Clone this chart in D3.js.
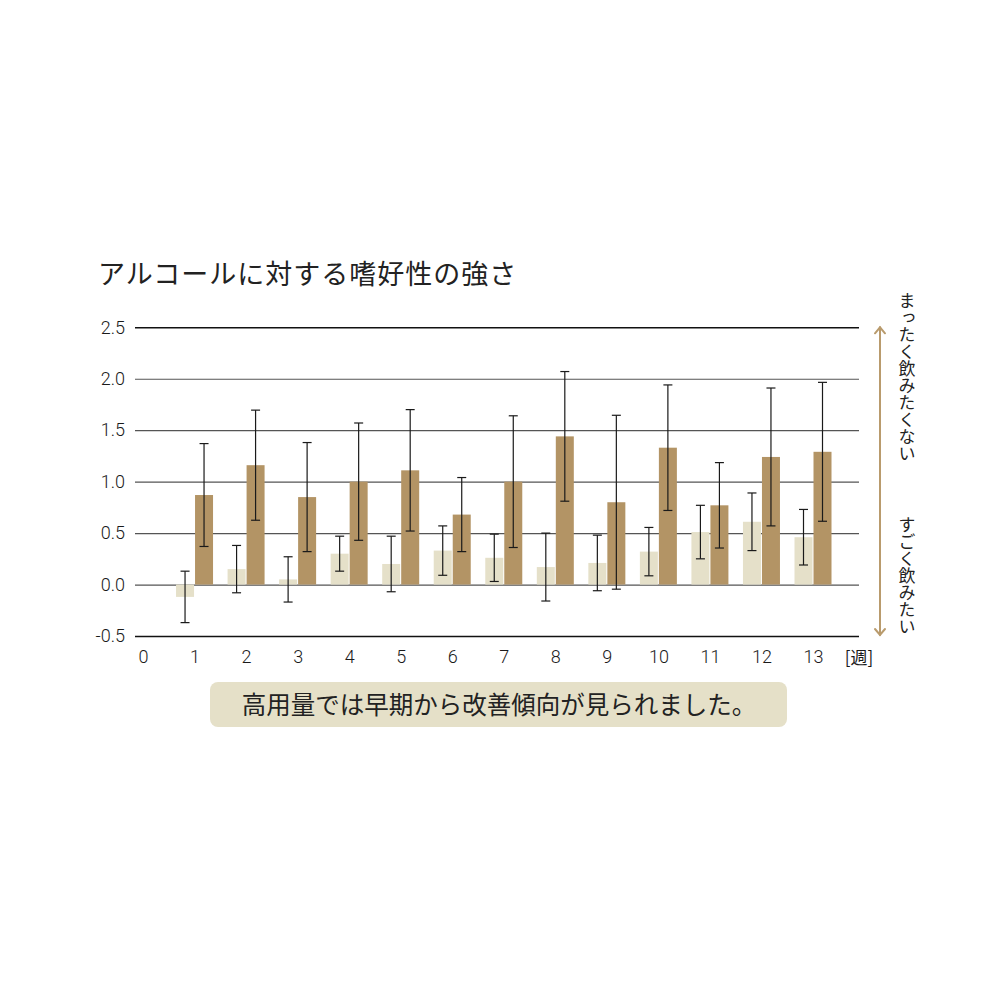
<!DOCTYPE html>
<html>
<head>
<meta charset="utf-8">
<script src="https://cdn.jsdelivr.net/npm/d3@7"></script>
<style>
  body { margin: 0; background: #fff; }
  svg { display: block; font-family: "Noto Sans CJK JP", "Noto Sans", sans-serif; }
</style>
</head>
<body>
<svg id="chart"></svg>
<script>
// data
const weeks = [1, 2, 3, 4, 5, 6, 7, 8, 9, 10, 11, 12, 13];
const lowMean  = [-0.12, 0.15, 0.05, 0.30, 0.20, 0.33, 0.26, 0.17, 0.21, 0.32, 0.51, 0.61, 0.46];
const lowSd    = [0.25, 0.23, 0.22, 0.17, 0.27, 0.24, 0.23, 0.33, 0.27, 0.235, 0.26, 0.28, 0.27];
const highMean = [0.87, 1.16, 0.85, 1.00, 1.11, 0.68, 1.00, 1.44, 0.80, 1.33, 0.77, 1.24, 1.29];
const highSd   = [0.50, 0.535, 0.53, 0.57, 0.59, 0.36, 0.64, 0.63, 0.845, 0.61, 0.415, 0.67, 0.675];
const yTicks = [-0.5, 0, 0.5, 1, 1.5, 2, 2.5];
const xTicks = d3.range(0, 14);

const title = "アルコールに対する嗜好性の強さ";
const note = "高用量では早期から改善傾向が見られました。";
const topLabel = "まったく飲みたくない";
const bottomLabel = "すごく飲みたい";
const unitLabel = "[週]";

const width = 1000, height = 1000;
const left = 135, right = 859;

const lightColor = "#e5e0c9";
const darkColor = "#b39465";
const arrowColor = "#b99b6d";
const numFont = "Roboto, 'Noto Sans', sans-serif";

const svg = d3.select("#chart").attr("width", width).attr("height", height);

const x = d3.scaleLinear().domain([0, 13]).range([143, 813]);
const y = d3.scaleLinear().domain([-0.5, 2.5]).range([636, 327.3]);

// title
svg.append("text")
  .attr("x", 98).attr("y", 284)
  .attr("font-size", 27)
  .attr("letter-spacing", 1)
  .attr("fill", "#222")
  .text(title);

// y axis + gridlines
const fmt = d3.format(".1f");
const yAxis = svg.append("g")
  .attr("transform", `translate(${left},0)`)
  .call(d3.axisLeft(y).tickValues(yTicks).tickFormat(d => fmt(d).replace("−", "-"))
    .tickSizeInner(-(right - left)).tickSizeOuter(0).tickPadding(10));
yAxis.select(".domain").remove();
yAxis.selectAll(".tick line")
  .attr("stroke", d => (d === 2.5 || d === -0.5) ? "#111" : "#555")
  .attr("stroke-width", d => (d === 2.5 || d === -0.5) ? 1.5 : 1.2);
yAxis.selectAll(".tick text")
  .attr("font-size", 18).attr("fill", "#1a1a1a")
  .attr("font-family", numFont).attr("font-weight", 300);

// bars
const rows = weeks.map((w, i) => ({w, lm: lowMean[i], ls: lowSd[i], hm: highMean[i], hs: highSd[i]}));
const barW = 18;

const g = svg.append("g");
g.selectAll("rect.low").data(rows).join("rect")
  .attr("class", "low")
  .attr("x", d => x(d.w) - 0.5 - barW)
  .attr("width", barW)
  .attr("y", d => Math.min(y(d.lm), y(0)))
  .attr("height", d => Math.abs(y(d.lm) - y(0)))
  .attr("fill", lightColor);

g.selectAll("rect.high").data(rows).join("rect")
  .attr("class", "high")
  .attr("x", d => x(d.w) + 0.5)
  .attr("width", barW)
  .attr("y", d => y(d.hm))
  .attr("height", d => y(0) - y(d.hm))
  .attr("fill", darkColor);

// error bars
function errBars(cls, cx, mean, sd) {
  const eb = g.selectAll("g." + cls).data(rows).join("g").attr("class", cls)
    .attr("stroke", "#1a1a1a").attr("stroke-width", 1.2);
  eb.append("line")
    .attr("x1", cx).attr("x2", cx)
    .attr("y1", d => y(mean(d) + sd(d))).attr("y2", d => y(mean(d) - sd(d)));
  [1, -1].forEach(s => {
    eb.append("line")
      .attr("x1", d => cx(d) - 4.5).attr("x2", d => cx(d) + 4.5)
      .attr("y1", d => y(mean(d) + s * sd(d))).attr("y2", d => y(mean(d) + s * sd(d)));
  });
}
errBars("elow", d => x(d.w) - 0.5 - barW / 2, d => d.lm, d => d.ls);
errBars("ehigh", d => x(d.w) + 0.5 + barW / 2, d => d.hm, d => d.hs);

// x axis labels
const xAxis = svg.append("g")
  .attr("transform", `translate(0,${y(-0.5)})`)
  .call(d3.axisBottom(x).tickValues(xTicks).tickSize(0).tickPadding(14));
xAxis.select(".domain").remove();
xAxis.selectAll(".tick text")
  .attr("font-size", 18).attr("fill", "#1a1a1a")
  .attr("font-family", numFont).attr("font-weight", 300);

svg.append("text")
  .attr("x", 859).attr("y", 664)
  .attr("text-anchor", "middle")
  .attr("font-size", 17).attr("fill", "#1a1a1a")
  .text(unitLabel);

// direction arrow
const ax = 880;
const arrow = svg.append("g").attr("stroke", arrowColor).attr("stroke-width", 2)
  .attr("fill", "none").attr("stroke-linecap", "round");
arrow.append("line").attr("x1", ax).attr("x2", ax).attr("y1", y(2.5)).attr("y2", y(-0.5) - 1);
arrow.append("path").attr("d", `M${ax - 5},${y(2.5) + 6} L${ax},${y(2.5)} L${ax + 5},${y(2.5) + 6}`);
arrow.append("path").attr("d", `M${ax - 5},${y(-0.5) - 7} L${ax},${y(-0.5) - 1} L${ax + 5},${y(-0.5) - 7}`);

// vertical labels
[[topLabel, 292], [bottomLabel, 516]].forEach(([t, yy]) => {
  svg.append("text")
    .attr("x", 907).attr("y", yy)
    .attr("font-size", 17).attr("fill", "#222")
    .style("writing-mode", "vertical-rl")
    .text(t);
});

// note box
const box = svg.append("g");
box.append("rect")
  .attr("x", 210).attr("y", 682).attr("width", 577).attr("height", 45)
  .attr("rx", 8).attr("fill", "#e5e0c8");
box.append("text")
  .attr("x", 499).attr("y", 705).attr("dy", "0.35em")
  .attr("text-anchor", "middle")
  .attr("font-size", 24.5).attr("fill", "#222")
  .text(note);
</script>
</body>
</html>
